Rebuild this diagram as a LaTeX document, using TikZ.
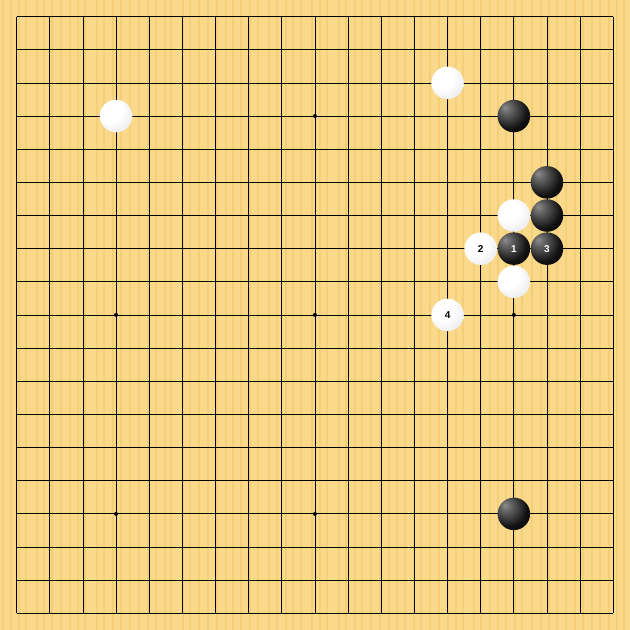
\documentclass[tikz,border=0pt]{standalone}
\usepackage{fontspec}
\setmainfont{Liberation Sans}
\definecolor{wood}{RGB}{250,217,138}
\definecolor{woodline}{RGB}{240,200,110}
\pgfdeclareradialshading{wst}{\pgfpoint{-12bp}{12bp}}{color(0bp)=(white); color(18bp)=(white); color(40bp)=(black!10); color(58bp)=(black!30); color(70bp)=(black!42)}
\pgfdeclareradialshading{bst}{\pgfpoint{-14bp}{14bp}}{color(0bp)=(black!45); color(8bp)=(black!60); color(28bp)=(black!93); color(45bp)=(black); color(70bp)=(black)}
\begin{document}
\begin{tikzpicture}[x=1pt,y=-1pt,
  gridline/.style={black,line width=0.8pt},
  star/.style={circle,fill=black,inner sep=0pt,minimum size=4pt},
  bstone/.style={circle,minimum size=32.5pt,inner sep=0pt,shading=bst,
     font=\bfseries\fontsize{10}{10}\selectfont,text=white},
  wstone/.style={circle,minimum size=32.5pt,inner sep=0pt,shading=wst,
     font=\bfseries\fontsize{10}{10}\selectfont,text=black}]
\fill[wood] (0,0) rectangle (630,630);
\useasboundingbox (0,0) rectangle (630,630);
\foreach \s in {3,11,19,26,37,44,52,61,70,78,85,97,104,113,121,130,139,148,156,165,171,183,190,199,208,217,226,233,241,250,258,269,277,286,293,301,312,320,327,339,346,355,362,371,380,389,397,405,414,421,430,439,448,456,463,474,481,490,498,506,515,522,532,541,549,557,566,575,583,592,600,609,617,624}
  \draw[woodline,line width=1.2pt,opacity=0.6] (\s,0) -- (\s,630);
\def\o{16.6}\def\d{33.15}
\foreach \i in {0,...,18}{
  \draw[gridline] (\o+\i*\d,\o) -- (\o+\i*\d,\o+18*\d);
  \draw[gridline] (\o,\o+\i*\d) -- (\o+18*\d,\o+\i*\d);
}
\foreach \a/\b [count=\k] in {9/3,3/9,9/9,15/9,3/15,9/15}
  \node[star] (st\k) at (\o+\a*\d,\o+\b*\d) {};
\node[wstone] (w1) at (\o+3*\d,\o+3*\d) {};
\node[wstone] (w2) at (\o+13*\d,\o+2*\d) {};
\node[bstone] (b1) at (\o+15*\d,\o+3*\d) {};
\node[bstone] (b2) at (\o+16*\d,\o+5*\d) {};
\node[wstone] (w3) at (\o+15*\d,\o+6*\d) {};
\node[bstone] (b3) at (\o+16*\d,\o+6*\d) {};
\node[wstone] (m2) at (\o+14*\d,\o+7*\d) {2};
\node[bstone] (m1) at (\o+15*\d,\o+7*\d) {1};
\node[bstone] (m3) at (\o+16*\d,\o+7*\d) {3};
\node[wstone] (w4) at (\o+15*\d,\o+8*\d) {};
\node[wstone] (m4) at (\o+13*\d,\o+9*\d) {4};
\node[bstone] (b4) at (\o+15*\d,\o+15*\d) {};
\end{tikzpicture}
\end{document}
